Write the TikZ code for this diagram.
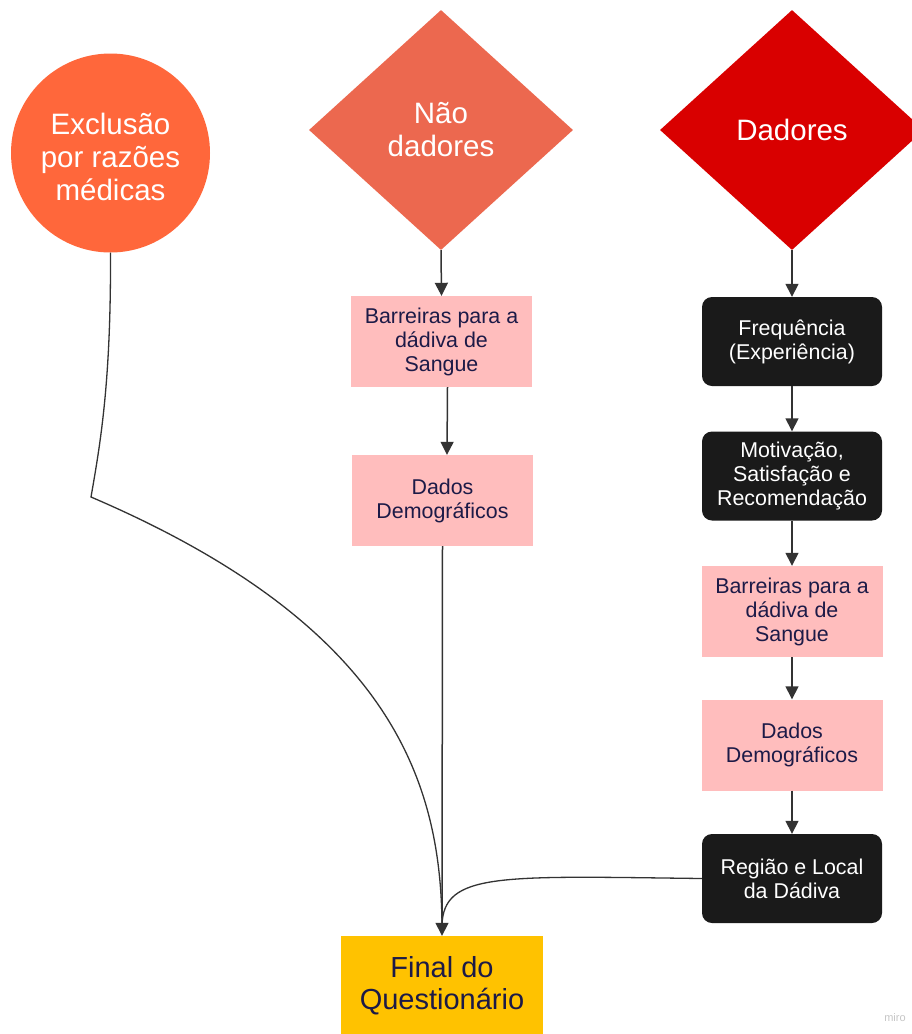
\documentclass[tikz,border=0pt]{standalone}
\usepackage{fontspec}
\setmainfont{Liberation Sans}
\usetikzlibrary{shapes.geometric,arrows.meta}
\definecolor{excC}{HTML}{FF673B}
\definecolor{ndC}{HTML}{EC684F}
\definecolor{dC}{HTML}{D90000}
\definecolor{pinkC}{HTML}{FFBDBD}
\definecolor{navyC}{HTML}{1C1A47}
\definecolor{blackC}{HTML}{1A1A1A}
\definecolor{finC}{HTML}{FFC200}
\definecolor{lineC}{HTML}{333333}
\begin{document}
\begin{tikzpicture}[x=1pt,y=-1pt,
  bigtxt/.style={font=\fontsize{29.5}{33}\selectfont, text=white, align=center},
  dia/.style={diamond, minimum width=264pt, minimum height=240pt, inner sep=0pt, bigtxt},
  pinkbox/.style={rectangle, fill=pinkC, minimum width=181pt, minimum height=91pt, inner sep=0pt,
    text=navyC, align=center, font=\fontsize{21.4}{24}\selectfont},
  darkbox/.style={rectangle, rounded corners=10pt, fill=blackC, minimum width=180pt, minimum height=89pt,
    inner sep=0pt, text=white, align=center, font=\fontsize{21.4}{24}\selectfont},
  arr/.style={draw=lineC, line width=1.5pt, -{Triangle[width=13pt,length=13pt]}},
  link/.style={draw=lineC, line width=1.3pt},
]
\fill[white] (0,0) rectangle (912,1034);
\useasboundingbox (0,0) rectangle (912,1034);

\node[circle, fill=excC, minimum size=199pt, inner sep=0pt] (exc) at (110.5,153) {};
\node[bigtxt, inner sep=0pt] (exct) at (110.5,157) {Exclusão\\por razões\\médicas};
\node[dia, fill=ndC] (nd) at (441,130) {Não\\dadores};
\node[dia, fill=dC] (dd) at (792,130) {Dadores};

\node[pinkbox] (lb1) at (441.5,341.5) {Barreiras para a\\dádiva de\\Sangue};
\node[pinkbox] (lb2) at (442.5,500.5) {Dados\\Demográficos};

\node[darkbox] (f1) at (792,341.5) {Frequência\\(Experiência)};
\node[darkbox] (f2) at (792,476) {Motivação,\\Satisfação e\\Recomendação};
\node[pinkbox] (rb1) at (792,611.5) {Barreiras para a\\dádiva de\\Sangue};
\node[pinkbox] (rb2) at (792,745) {Dados\\Demográficos};
\node[darkbox] (reg) at (792,878.5) {Região e Local\\da Dádiva};

\node[rectangle, fill=finC, minimum width=202pt, minimum height=100pt, inner sep=0pt,
  text=navyC, align=center, font=\fontsize{29}{32}\selectfont] (fin) at (442,986) {Final do\\Questionário};

\node[text=gray!45, font=\fontsize{11}{13}\selectfont, inner sep=0pt] (wm) at (895,1018) {miro};

% left column
\draw[arr] (nd.south) -- (lb1.north);
\draw[arr] ([xshift=6pt]lb1.south) -- ([xshift=4.5pt]lb2.north);
\draw[arr] (lb2.south) -- (fin.north);

% exclusion curve
\coordinate (bend) at (91,497);
\draw[link] (exc.south) .. controls (111,380) and (101,440) .. (bend)
  .. controls (390,625) and (441,780) .. ([yshift=10pt]fin.north);

% right column
\draw[arr] (dd.south) -- (f1.north);
\draw[arr] (f1.south) -- (f2.north);
\draw[arr] (f2.south) -- (rb1.north);
\draw[arr] (rb1.south) -- (rb2.north);
\draw[arr] (rb2.south) -- (reg.north);

% region curve
\draw[link] (reg.west) .. controls (500,876) and (443,872) .. ([yshift=10pt]fin.north);
\end{tikzpicture}
\end{document}
